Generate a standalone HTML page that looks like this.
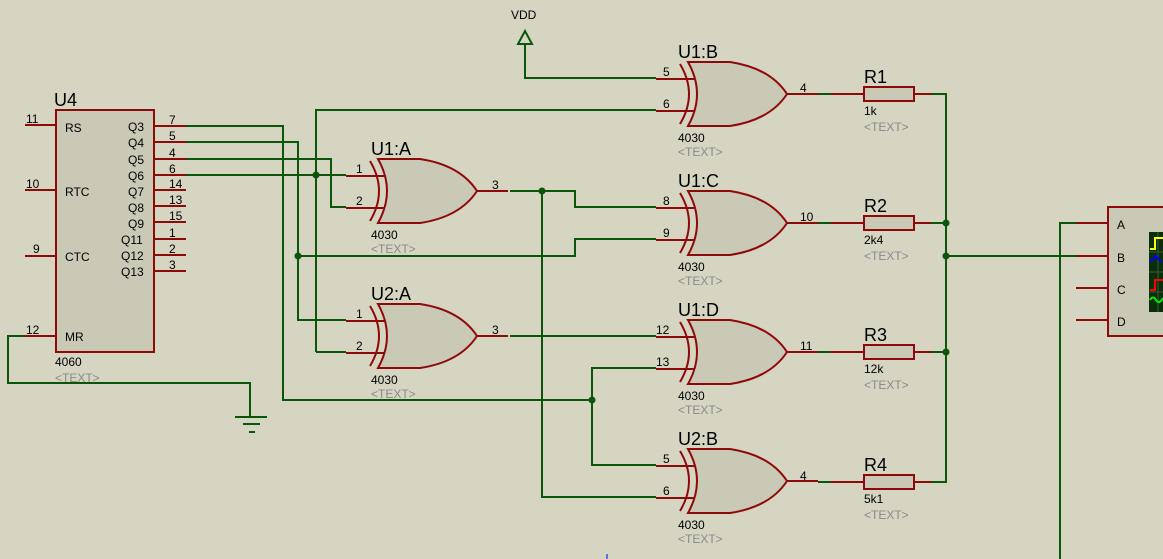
<!DOCTYPE html>
<html><head><meta charset="utf-8"><style>
html,body{margin:0;padding:0;background:#d5d5c2;}
svg{display:block;font-family:"Liberation Sans",sans-serif;}
.w{stroke:#0b560b;stroke-width:2;fill:none;}
.p{stroke:#8e0a0a;stroke-width:2;fill:none;}
.t{font-size:12px;fill:#000;}
.g{font-size:12px;fill:#8a8a8a;}
.n{font-size:18px;fill:#000;}
</style></head><body>
<svg width="1163" height="559" viewBox="0 0 1163 559" xmlns="http://www.w3.org/2000/svg">
<defs>
<g id="gate">
<path d="M-34,17 H4 M-34,49 H4 M97,32 H128" class="p"/>
<path d="M-2,0 L40,0 Q80,6 97,32 Q80,58 40,64 L-2,64 Q16,32 -2,0 Z" fill="#c9c9b5" stroke="#8e0a0a" stroke-width="2"/>
<path d="M-10,2 Q8,32 -10,62" class="p"/>
</g>
<g id="res">
<path d="M-34,0 H-1 M49,0 H66" class="p"/>
<rect x="-1" y="-7" width="50" height="14" fill="#c9c9b5" stroke="#8e0a0a" stroke-width="2"/>
</g>
</defs>

<!-- wires -->
<g class="w">
<path d="M186,126 H283 V400 H592"/>
<path d="M186,142 H298 V320 H346"/>
<path d="M186,159 H331 V207 H346"/>
<path d="M186,175 H346"/>
<path d="M316,352 V110 H656"/>
<path d="M316,352 H346"/>
<path d="M298,256 H575 V239 H656"/>
<path d="M510,191 H575 V207 H656"/>
<path d="M542,191 V497 H656"/>
<path d="M510,336 H656"/>
<path d="M656,368 H592 V465 H656"/>
<path d="M525,44 V78 H656"/>
<path d="M818,94 H850 M818,223 H850 M818,352 H850 M818,482 H850"/>
<path d="M930,94 H946 V482 H930"/>
<path d="M930,223 H946 M930,352 H946"/>
<path d="M946,256 H1076"/>
<path d="M1060,559 V223 H1076"/>
<path d="M25,336 H8 V383 H250 V417"/>
<path d="M235,417 H267 M243,424 H260 M249,432 H255"/>
</g>
<path d="M525,31 L518,44 H532 Z" fill="none" stroke="#0b560b" stroke-width="2"/>
<text x="511" y="19" class="t">VDD</text>
<g fill="#0b560b">
<circle cx="316" cy="175" r="3.5"/><circle cx="298" cy="256" r="3.5"/>
<circle cx="542" cy="191" r="3.5"/><circle cx="592" cy="400" r="3.5"/>
<circle cx="946" cy="223" r="3.5"/><circle cx="946" cy="256" r="3.5"/><circle cx="946" cy="352" r="3.5"/>
</g>

<!-- U4 -->
<g class="p">
<path d="M25,125 H56 M25,190 H56 M25,256 H56 M25,336 H56"/>
<path d="M154,126 H186 M154,142 H186 M154,159 H186 M154,175 H186 M154,190 H186 M154,206 H186 M154,222 H186 M154,239 H186 M154,255 H186 M154,271 H186"/>
</g>
<rect x="56" y="110" width="98" height="242" fill="#c9c9b5" stroke="#8e0a0a" stroke-width="2"/>
<text x="54" y="106" class="n">U4</text>
<g class="t">
<text x="26" y="123">11</text><text x="26" y="188">10</text><text x="33" y="253">9</text><text x="26" y="334">12</text>
<text x="65" y="132">RS</text><text x="65" y="196">RTC</text><text x="65" y="261">CTC</text><text x="65" y="341">MR</text>
<text x="128" y="131">Q3</text><text x="128" y="147">Q4</text><text x="128" y="164">Q5</text><text x="128" y="180">Q6</text>
<text x="128" y="196">Q7</text><text x="128" y="212">Q8</text><text x="128" y="228">Q9</text><text x="121" y="244">Q11</text>
<text x="121" y="260">Q12</text><text x="121" y="276">Q13</text>
<text x="169" y="124">7</text><text x="169" y="140">5</text><text x="169" y="157">4</text><text x="169" y="173">6</text>
<text x="169" y="188">14</text><text x="169" y="204">13</text><text x="169" y="220">15</text><text x="169" y="237">1</text>
<text x="169" y="253">2</text><text x="169" y="269">3</text>
<text x="55" y="366">4060</text>
</g>
<text x="55" y="382" class="g">&lt;TEXT&gt;</text>

<!-- gates -->
<use href="#gate" x="380" y="159"/>
<use href="#gate" x="380" y="304"/>
<use href="#gate" x="690" y="62"/>
<use href="#gate" x="690" y="191"/>
<use href="#gate" x="690" y="320"/>
<use href="#gate" x="690" y="449"/>
<g class="n">
<text x="371" y="155">U1:A</text><text x="371" y="300">U2:A</text>
<text x="678" y="58">U1:B</text><text x="678" y="187">U1:C</text>
<text x="678" y="316">U1:D</text><text x="678" y="445">U2:B</text>
</g>
<g class="t">
<text x="356" y="173">1</text><text x="356" y="205">2</text><text x="492" y="189">3</text>
<text x="356" y="318">1</text><text x="356" y="350">2</text><text x="492" y="334">3</text>
<text x="663" y="76">5</text><text x="663" y="108">6</text><text x="800" y="92">4</text>
<text x="663" y="205">8</text><text x="663" y="237">9</text><text x="800" y="221">10</text>
<text x="656" y="334">12</text><text x="656" y="366">13</text><text x="800" y="350">11</text>
<text x="663" y="463">5</text><text x="663" y="495">6</text><text x="800" y="480">4</text>
<text x="371" y="239">4030</text><text x="371" y="384">4030</text>
<text x="678" y="142">4030</text><text x="678" y="271">4030</text>
<text x="678" y="400">4030</text><text x="678" y="529">4030</text>
</g>
<g class="g">
<text x="371" y="253">&lt;TEXT&gt;</text><text x="371" y="398">&lt;TEXT&gt;</text>
<text x="678" y="156">&lt;TEXT&gt;</text><text x="678" y="285">&lt;TEXT&gt;</text>
<text x="678" y="414">&lt;TEXT&gt;</text><text x="678" y="543">&lt;TEXT&gt;</text>
</g>

<!-- resistors -->
<use href="#res" x="865" y="94"/>
<use href="#res" x="865" y="223"/>
<use href="#res" x="865" y="352"/>
<use href="#res" x="865" y="482"/>
<g class="n">
<text x="864" y="83">R1</text><text x="864" y="212">R2</text><text x="864" y="341">R3</text><text x="864" y="471">R4</text>
</g>
<g class="t">
<text x="864" y="115">1k</text><text x="864" y="244">2k4</text><text x="864" y="373">12k</text><text x="864" y="503">5k1</text>
</g>
<g class="g">
<text x="864" y="131">&lt;TEXT&gt;</text><text x="864" y="260">&lt;TEXT&gt;</text><text x="864" y="389">&lt;TEXT&gt;</text><text x="864" y="519">&lt;TEXT&gt;</text>
</g>

<!-- scope -->
<path d="M1076,223 H1108 M1076,256 H1108 M1076,288 H1108 M1076,320 H1108" class="p"/>
<rect x="1108" y="207" width="60" height="129" fill="#c9c9b5" stroke="#8e0a0a" stroke-width="2"/>
<g class="t">
<text x="1117" y="229">A</text><text x="1117" y="262">B</text><text x="1117" y="294">C</text><text x="1117" y="326">D</text>
</g>
<rect x="1149" y="232" width="20" height="80" fill="#0a2e0a"/>
<path d="M1149,252 H1163 M1149,272 H1163 M1149,292 H1163 M1158,232 V312" stroke="#3a5a3a" stroke-width="1"/>
<path d="M1150,249 H1155 V238 H1163" stroke="#ffff00" stroke-width="2" fill="none"/>
<path d="M1150,262 L1156,256 L1161,262" stroke="#0000ff" stroke-width="2" fill="none"/>
<path d="M1150,290 H1155 V280 H1163" stroke="#ff0000" stroke-width="2" fill="none"/>
<path d="M1150,300 Q1153,295 1156,300 Q1159,305 1163,298" stroke="#00ee00" stroke-width="2" fill="none"/>
<path d="M607,554 V559" stroke="#0000ff" stroke-width="1"/>
</svg>
</body></html>
